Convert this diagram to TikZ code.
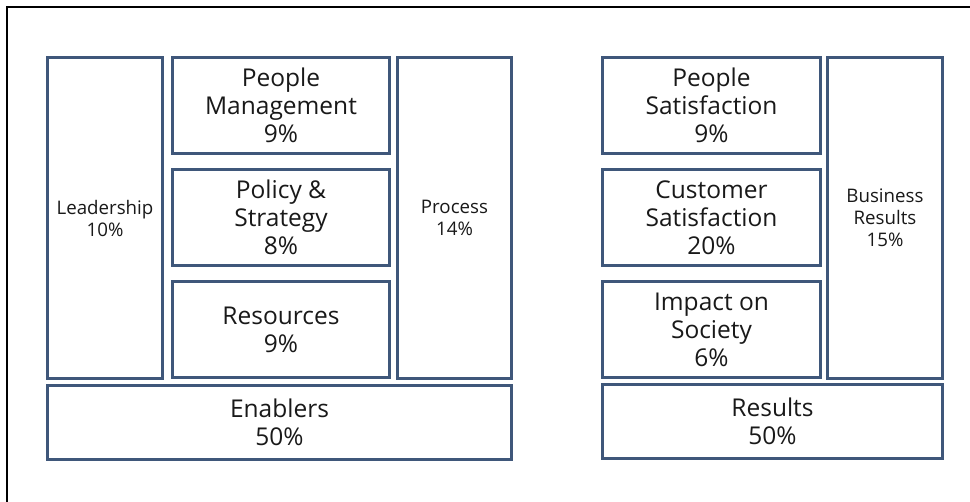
\documentclass[tikz,border=0pt]{standalone}
\usepackage{fontspec}
\setmainfont{Open Sans}
\usepackage{tikz}
\usetikzlibrary{positioning}
\definecolor{frameblue}{RGB}{63,87,122}
\definecolor{labelgray}{RGB}{25,25,25}
\tikzset{
    cell/.style={rectangle, draw=frameblue, line width=3pt, fill=white, align=center, text=labelgray, minimum width=217pt, minimum height=96pt, inner sep=0pt, font=\fontsize{24.5}{28}\selectfont},
    tall/.style={rectangle, draw=frameblue, line width=3pt, fill=white, align=center, text=labelgray, minimum width=115pt, minimum height=321pt, inner sep=0pt, font=\fontsize{18.7}{22}\selectfont},
    base/.style={cell, minimum height=74pt}
}
\begin{document}
\begin{tikzpicture}[x=1pt, y=1pt]
    \useasboundingbox (0,0) rectangle (970,502);
    % page frame
    \draw[line width=2.2pt] (7,0) -- (7,495) -- (970,495);

    % Enablers
    \node [tall] (lead) at (105,284) {Leadership\\10\%};
    \node [cell, right=7pt of lead.north east, anchor=north west] (people) {People\\Management\\9\%};
    \node [cell, below=13pt of people] (policy) {Policy \&\\Strategy\\8\%};
    \node [cell, below=13pt of policy] (resources) {Resources\\9\%};
    \node [tall, minimum width=114pt, right=5pt of people.north east, anchor=north west] (process) {Process\\14\%};
    \node [base, minimum width=464pt, below=4pt of lead.south west, anchor=north west] (enablers) {Enablers\\50\%};

    % Results
    \node [cell, minimum width=218pt, right=88pt of process.north east, anchor=north west] (peoplesat) {People\\Satisfaction\\9\%};
    \node [cell, minimum width=218pt, below=13pt of peoplesat] (customer) {Customer\\Satisfaction\\20\%};
    \node [cell, minimum width=218pt, below=13pt of customer] (society) {Impact on\\Society\\6\%};
    \node [tall, right=4pt of peoplesat.north east, anchor=north west] (business) {Business\\Results\\15\%};
    \node [base, minimum width=340pt, below=4pt of society.south west, anchor=north west] (results) {Results\\50\%};
\end{tikzpicture}
\end{document}
